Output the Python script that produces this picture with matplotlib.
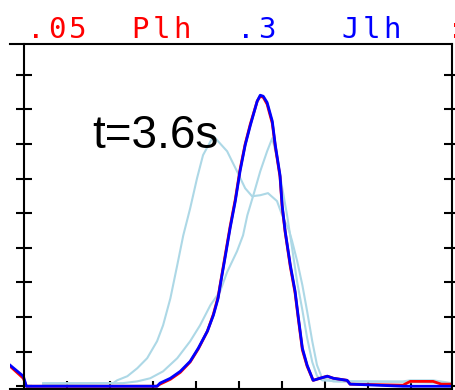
import matplotlib.pyplot as plt

# x in units of the bottom tick spacing, y in units of the side tick spacing
jlh_x = [-0.33, -0.02, 0.05, 2.40, 3.09, 3.16, 3.40, 3.63, 3.86, 4.05, 4.26, 4.40, 4.51, 4.56,
         4.67, 4.79, 4.91, 5.02, 5.14, 5.26, 5.42, 5.49, 5.56, 5.65, 5.77, 5.84, 5.95, 6.00,
         6.07, 6.19, 6.30, 6.37, 6.47, 6.58, 6.72, 6.88, 7.05, 7.19, 7.51, 7.58, 8.81, 9.95]
jlh_y = [0.61, 0.29, 0.0, 0.0, 0.0, 0.09, 0.23, 0.43, 0.72, 1.10, 1.59, 2.05, 2.54, 2.92,
         3.70, 4.57, 5.35, 6.21, 6.97, 7.54, 8.24, 8.41, 8.38, 8.20, 7.66, 6.97, 6.10, 5.23,
         4.48, 3.50, 2.75, 2.05, 1.10, 0.61, 0.17, 0.23, 0.29, 0.23, 0.17, 0.06, 0.0, 0.0]

plh_x = [-0.33, -0.02, 0.05, 3.09, 3.16, 3.40, 3.63, 3.86, 4.05, 4.26, 4.40, 4.51, 4.56,
         4.67, 4.79, 4.91, 5.02, 5.14, 5.26, 5.42, 5.49, 5.56, 5.65, 5.77, 5.84, 5.95, 6.00,
         6.07, 6.19, 6.30, 6.37, 6.47, 6.58, 6.72, 6.88, 7.05, 7.19, 7.51, 7.58, 8.81, 8.98,
         9.51, 9.70, 9.95]
plh_y = [0.58, 0.23, 0.0, 0.0, 0.06, 0.20, 0.40, 0.70, 1.08, 1.59, 2.08, 2.58, 2.95,
         3.75, 4.62, 5.40, 6.26, 7.00, 7.58, 8.24, 8.38, 8.35, 8.15, 7.60, 6.93, 6.05, 5.18,
         4.45, 3.45, 2.70, 2.00, 1.05, 0.58, 0.17, 0.23, 0.29, 0.23, 0.17, 0.06, 0.03, 0.14,
         0.14, 0.06, 0.06]

# the two pale reference curves
ref1_x = [0.44, 2.07, 2.16, 2.40, 2.63, 2.86, 3.09, 3.23, 3.40, 3.56, 3.70, 3.86, 4.02, 4.16,
          4.40, 4.72, 4.95, 5.14, 5.30, 5.49, 5.67, 5.88, 6.00, 6.16, 6.23, 6.35, 6.47, 6.58,
          6.70, 6.81, 6.93, 7.05, 7.19, 8.81, 8.98, 9.51, 9.95]
ref1_y = [0.09, 0.09, 0.17, 0.29, 0.52, 0.81, 1.30, 1.76, 2.54, 3.50, 4.36, 5.14, 6.01, 6.68,
          7.23, 6.79, 6.21, 5.72, 5.49, 5.52, 5.58, 5.35, 4.94, 4.50, 4.20, 3.61, 2.92, 2.17,
          1.30, 0.61, 0.23, 0.20, 0.14, 0.14, 0.17, 0.17, 0.09]

ref2_x = [0.44, 2.30, 2.63, 2.93, 3.23, 3.56, 3.86, 4.09, 4.33, 4.56, 4.72, 4.95, 5.09, 5.19,
          5.33, 5.49, 5.65, 5.77, 5.88, 6.02, 6.12, 6.23, 6.35, 6.47, 6.58, 6.70, 6.81, 6.93,
          7.30, 8.81, 9.95]
ref2_y = [0.06, 0.09, 0.14, 0.23, 0.43, 0.81, 1.30, 1.76, 2.34, 2.75, 3.30, 3.90, 4.36, 4.94,
          5.52, 6.21, 6.79, 7.17, 6.60, 5.60, 4.90, 4.00, 3.00, 2.20, 1.40, 0.70, 0.30, 0.17,
          0.14, 0.12, 0.09]

label = ".05  Plh  .3   Jlh  :"
label_colors = "rrrrrrrrrbbbbbbbbbbbr"

W, H = 456, 390
fig = plt.figure(figsize=(W / 100, H / 100), dpi=100)
ax = fig.add_axes([10 / W, 1 / H, 442 / W, 345 / H])

ax.plot(ref1_x, ref1_y, color="#add8e6", lw=1.5)
ax.plot(ref2_x, ref2_y, color="#add8e6", lw=1.5)
ax.plot(plh_x, plh_y, color="#ff0000", lw=2)
ax.plot(jlh_x, jlh_y, color="#0000ff", lw=2)

ax.set_xlim(-0.33, 9.95)
ax.set_ylim(-0.08, 9.89)
ax.spines["left"].set_position(("data", 0))
for s in ax.spines.values():
    s.set_linewidth(1.5)
ax.set_axisbelow(True)
ax.set_xticks(range(1, 10))
ax.set_yticks(range(0, 10))
ax.tick_params(axis="x", direction="in", length=6, width=1.5, labelbottom=False)
ax.tick_params(axis="y", direction="inout", length=12, width=1.5, left=True, right=True,
               labelleft=False)

# header drawn one character per fixed-width cell, like the original pixel font
# (the last ':' is cut by the right edge in the original too)
for i, ch in enumerate(label):
    if ch == " ":
        continue
    c = "#ff0000" if label_colors[i] == "r" else "#0000ff"
    fig.text((25 + 21 * i + 10.5) / W, (H - 38) / H, ch, color=c, ha="center",
             va="baseline", family="DejaVu Sans Mono", fontsize=21)

fig.text(92 / W, (H - 148) / H, "t=3.6s", family="Liberation Sans", fontsize=33,
         va="baseline", ha="left")

fig.savefig("out.png", dpi=100)
